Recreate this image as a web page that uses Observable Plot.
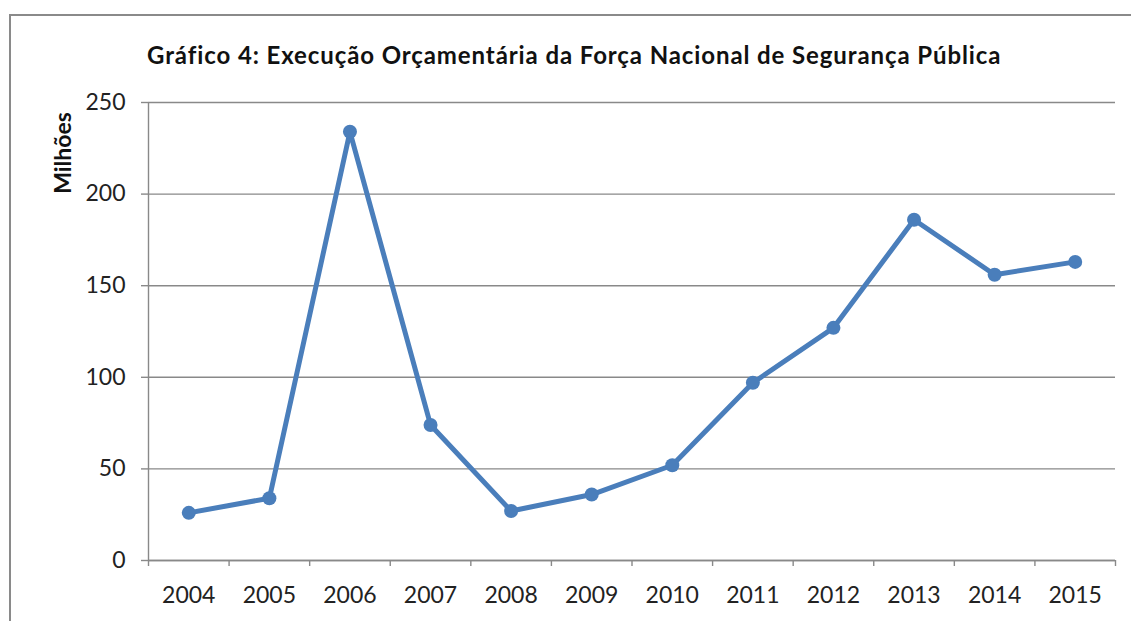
<!DOCTYPE html>
<html>
<head>
<meta charset="utf-8">
<script src="https://cdn.jsdelivr.net/npm/d3@7"></script>
<script src="https://cdn.jsdelivr.net/npm/@observablehq/plot@0.6"></script>
<style>
  html, body { margin: 0; padding: 0; background: #fff; overflow: hidden; }
  #wrap { position: relative; width: 1131px; height: 621px; overflow: hidden; font-family: Lato, "Open Sans", sans-serif; }
  #frame { position: absolute; left: 9px; top: 14px; width: 1200px; height: 700px; border-left: 2px solid #8a8a8a; border-top: 2px solid #8a8a8a; box-sizing: border-box; }
  #title { position: absolute; left: 147px; top: 40px; font-size: 24px; line-height: 30px; letter-spacing: 0.9px; font-weight: bold; color: #111; white-space: nowrap; }
  #ylabel { position: absolute; left: 62px; top: 153px; transform: translate(-50%, -50%) rotate(-90deg); font-size: 23px; font-weight: bold; color: #111; white-space: nowrap; }
  #chart { position: absolute; left: 0; top: 0; }
</style>
</head>
<body>
<div id="wrap">
  <div id="frame"></div>
  <div id="chart"></div>
  <div id="title">Gráfico 4: Execução Orçamentária da Força Nacional de Segurança Pública</div>
  <div id="ylabel">Milhões</div>
</div>
<script>
const years = ["2004","2005","2006","2007","2008","2009","2010","2011","2012","2013","2014","2015"];
const values = [26, 34, 234, 74, 27, 36, 52, 97, 127, 186, 156, 163];
const yTicks = [0, 50, 100, 150, 200, 250];

const data = years.map((year, i) => ({year, pos: i + 0.5, value: values[i]}));
const gridColor = "#898989";
const lineColor = "#4A7EBB";

const chart = Plot.plot({
  width: 1131,
  height: 621,
  marginLeft: 148,
  marginTop: 102,
  marginRight: 16,
  marginBottom: 61,
  style: {fontFamily: "Lato, 'Open Sans', sans-serif", fontSize: "23px", color: "#222", background: "transparent"},
  x: {type: "linear", domain: [0, years.length]},
  y: {domain: [0, 250]},
  marks: [
    Plot.gridY(yTicks, {stroke: gridColor, strokeOpacity: 1, strokeWidth: 1.4}),
    Plot.axisY({ticks: yTicks, tickSize: 7, tickPadding: 16, stroke: gridColor, strokeWidth: 1.4, fill: "#222", label: null}),
    Plot.ruleX([0], {stroke: gridColor, strokeWidth: 1.4}),
    Plot.ruleY([0], {stroke: gridColor, strokeWidth: 1.4}),
    Plot.axisX({ticks: d3.range(years.length + 1), tickSize: 6, tickFormat: () => "", stroke: gridColor, strokeWidth: 1.4, label: null}),
    Plot.axisX({ticks: data.map(d => d.pos), tickSize: 0, tickPadding: 26, tickFormat: p => years[Math.floor(p)], fill: "#222", label: null}),
    Plot.line(data, {x: "pos", y: "value", stroke: lineColor, strokeWidth: 5, strokeLinejoin: "round"}),
    Plot.dot(data, {x: "pos", y: "value", r: 7, fill: lineColor, stroke: null})
  ]
});
document.getElementById("chart").appendChild(chart);
</script>
</body>
</html>
